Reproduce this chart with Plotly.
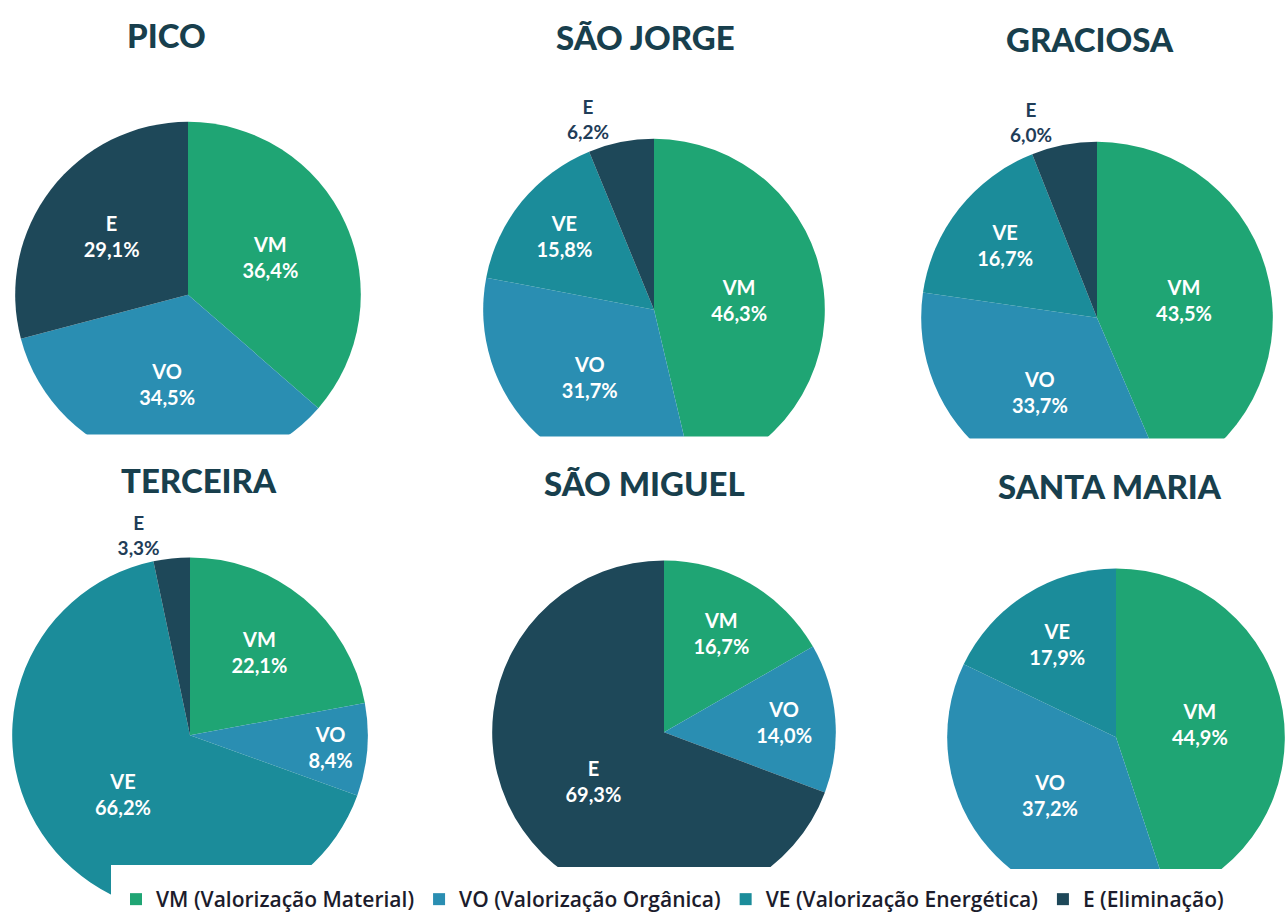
import plotly.graph_objects as go

# ---------------- data ----------------
islands = ["PICO", "SÃO JORGE", "GRACIOSA", "TERCEIRA", "SÃO MIGUEL", "SANTA MARIA"]
codes = ["VM", "VO", "VE", "E"]
category_names = [
    "VM (Valorização Material)",
    "VO (Valorização Orgânica)",
    "VE (Valorização Energética)",
    "E (Eliminação)",
]
pico = [36.4, 34.5, 0.0, 29.1]
sao_jorge = [46.3, 31.7, 15.8, 6.2]
graciosa = [43.5, 33.7, 16.7, 6.0]
terceira = [22.1, 8.4, 66.2, 3.3]
sao_miguel = [16.7, 14.0, 0.0, 69.3]
santa_maria = [44.9, 37.2, 17.9, 0.0]
island_values = [pico, sao_jorge, graciosa, terceira, sao_miguel, santa_maria]

# ---------------- styling / layout ----------------
W, H = 1285, 920
colors = ["#1fa574", "#2a8eb2", "#1b8c9a", "#1e4859"]
title_color = "#183f4d"
outside_color = "#1f3d58"

# pie geometry in pixels: (center x, center y, radius)
geom = [
    (188, 295, 173),
    (654, 310, 171),
    (1097, 318, 176),
    (190, 736, 178),
    (664, 733, 172),
    (1116, 738, 169),
]
# bottom clipping of each pie: (mask left px, clip line px, mask right px)
clips = [(0, 435, 400), (470, 437, 860), (880, 439, 1285),
         (111, 866, 420), (470, 868, 880), (900, 870, 1285)]
titles_px = [(166, 35), (645, 37), (1090, 39), (199, 481), (644, 484), (1110, 487)]

fig = go.Figure()
for name, vals, (cx, cy, r) in zip(islands, island_values, geom):
    positions = []
    for v in vals:
        if v == 0:
            positions.append("none")
        elif v < 7:
            positions.append("outside")
        else:
            positions.append("inside")
    fig.add_trace(go.Pie(
        labels=category_names,
        values=vals,
        customdata=codes,
        name=name,
        sort=False,
        direction="clockwise",
        rotation=0,
        marker=dict(colors=colors, line=dict(width=0)),
        texttemplate="%{customdata}<br>%{value:.1f}%",
        textposition=positions,
        insidetextorientation="horizontal",
        insidetextfont=dict(family="Lato", size=20, color="white", weight="bold"),
        outsidetextfont=dict(family="Lato", size=19, color=outside_color, weight="bold"),
        hoverinfo="label+value",
        showlegend=True,
        domain=dict(
            x=[(cx - r) / W, (cx + r) / W],
            y=[1 - (cy + r) / H, 1 - (cy - r) / H],
        ),
    ))

shapes = []
for (x0, y0, x1), (cx, cy, r) in zip(clips, geom):
    shapes.append(dict(
        type="rect", xref="paper", yref="paper", layer="above",
        x0=x0 / W, x1=x1 / W, y0=max(0, 1 - (cy + r + 30) / H), y1=1 - y0 / H,
        fillcolor="white", line=dict(width=0),
    ))

annotations = []
for name, (tx, ty) in zip(islands, titles_px):
    annotations.append(dict(
        text=name, x=tx / W, y=1 - ty / H, xref="paper", yref="paper",
        xanchor="center", yanchor="middle", showarrow=False,
        font=dict(family="Lato", size=33, color=title_color, weight=900),
    ))

fig.update_layout(
    width=W, height=H,
    margin=dict(l=0, r=0, t=0, b=0),
    paper_bgcolor="white",
    separators=",.",
    shapes=shapes,
    annotations=annotations,
    legend=dict(
        orientation="h", x=116 / W, y=1 - 900 / H, xanchor="left", yanchor="middle",
        font=dict(family="Open Sans", size=21, color="#1c1c2c", weight=600),
        bgcolor="rgba(0,0,0,0)", itemclick=False,
    ),
)

fig.write_html(
    "out.html",
    config={"displayModeBar": False},
    post_script="document.body.style.margin='0';",
)
